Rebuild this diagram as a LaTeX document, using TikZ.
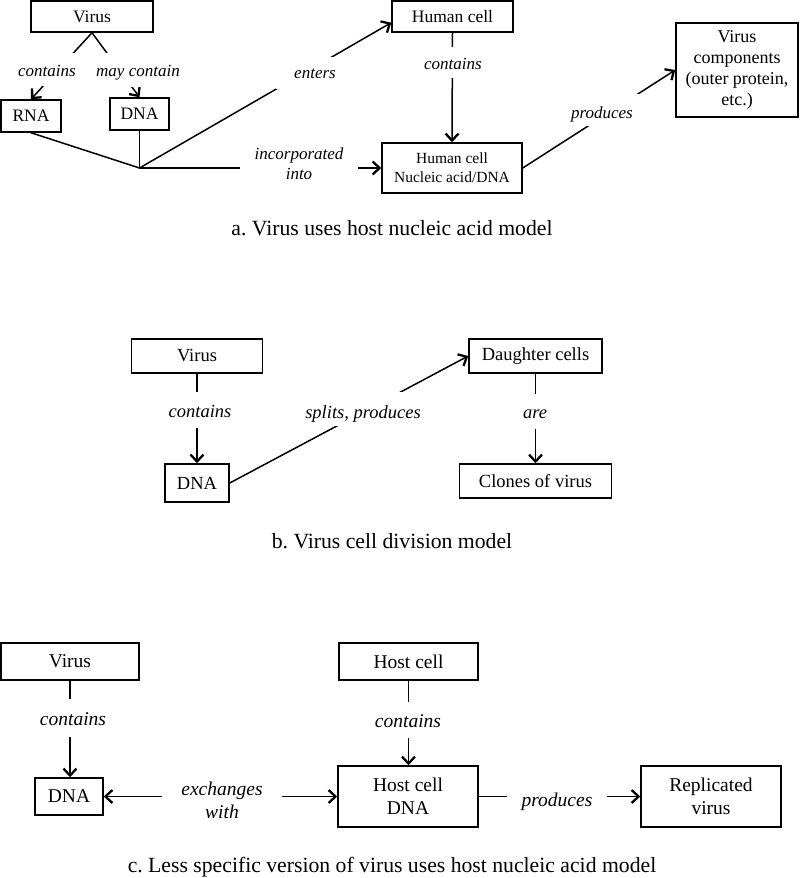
\documentclass[tikz,border=0pt]{standalone}
\usepackage{fontspec}
\setmainfont{Liberation Serif}
\usetikzlibrary{arrows.meta,calc}
\frenchspacing
\begin{document}
\begin{tikzpicture}[x=1pt,y=-1pt,
  box/.style={draw, line width=1.5pt, inner sep=0pt, align=center},
  fa/.style={font=\fontsize{17.5}{19}\selectfont},
  fb/.style={font=\fontsize{18.5}{21}\selectfont},
  fc/.style={font=\fontsize{19.5}{23}\selectfont},
  conn/.style={line width=1.5pt, line cap=round, line join=round},
  tip/.style={Straight Barb[length=7pt,width=13pt,line width=2.3pt]},
  arr/.style={conn, -{Straight Barb[length=7pt,width=13pt,line width=2.3pt]}},
  darr/.style={conn, {Straight Barb[length=7pt,width=13pt,line width=2.3pt]}-{Straight Barb[length=7pt,width=13pt,line width=2.3pt]}},
  lab/.style={fill=white, inner xsep=2pt, inner ysep=0pt, anchor=base, font=\itshape\fontsize{17}{20}\selectfont},
  labb/.style={lab, font=\itshape\fontsize{18.5}{21}\selectfont},
  labc/.style={lab, font=\itshape\fontsize{19.5}{23}\selectfont},
  captxt/.style={anchor=base, inner sep=0pt, font=\fontsize{21.7}{24}\selectfont}
]
\useasboundingbox (0,0) rectangle (800,878);

% ---------- section a ----------
\node[box, fa, minimum width=122pt, minimum height=31pt] (virusA) at (92,16.5) {Virus};
\node[box, fa, minimum width=60pt, minimum height=32pt] (rnaA) at (31,116) {RNA};
\node[box, fa, minimum width=59pt, minimum height=32pt] (dnaA) at (139.5,114) {DNA};
\node[box, fa, minimum width=121pt, minimum height=31pt] (humanA) at (452.5,16.5) {Human cell};
\node[box, font=\fontsize{15.5}{19}\selectfont, minimum width=140pt, minimum height=50pt] (nucA) at (452,168) {Human cell\\Nucleic acid/DNA};
\node[box, font=\fontsize{18}{20.7}\selectfont, minimum width=122pt, minimum height=94pt] (compA) at (737,70) {Virus\\components\\(outer protein,\\etc.)};
\coordinate (J) at (139.5,168);

\draw[arr] (virusA.south) -- (rnaA.north);
\draw[arr] (virusA.south) -- (dnaA.north);
\draw[conn] (rnaA.south) -- (J);
\draw[conn] (dnaA.south) -- (J);
\draw[arr] (J) -- ($(humanA.south west)!0.31!(humanA.north west)$);
\draw[arr] (J) -- (nucA.west);
\draw[arr] (humanA.south) -- (nucA.north);
\draw[arr] (nucA.east) -- (compA.west);

\node[lab, text height=23pt, text depth=10pt] (la1) at (47,76) {contains};
\node[lab, text height=23pt, text depth=11pt] (la2) at (138,76) {may contain};
\node[lab, text height=21pt, text depth=10.7pt, minimum width=78pt] (la3) at (315,78) {enters};
\node[lab, anchor=center, align=center, minimum width=118pt, minimum height=44pt, inner xsep=0pt] (la4) at (299,164) {incorporated\\into};
\node[lab, text height=22pt, text depth=9pt] (la5) at (453,69) {contains};
\node[lab, text height=24.4pt, text depth=8pt, minimum width=76pt] (la6) at (602,118) {produces};

\node[captxt] (capA) at (392,235) {a. Virus uses host nucleic acid model};

% ---------- section b ----------
\node[box, fb, minimum width=131pt, minimum height=34pt] (virusB) at (197,356) {Virus};
\node[box, fb, minimum width=64pt, minimum height=38pt] (dnaB) at (197,483) {DNA};
\node[box, fb, minimum width=133pt, minimum height=34pt] (daughtB) at (535.5,356) {Daughter cells};
\node[box, fb, minimum width=152pt, minimum height=34pt] (clonesB) at (535.5,481) {Clones of virus};

\draw[arr] (virusB.south) -- (dnaB.north);
\draw[arr] (dnaB.east) -- (daughtB.west);
\draw[arr] (daughtB.south) -- (clonesB.north);

\node[labb, text height=25pt, text depth=11pt] (lb1) at (200,417) {contains};
\node[labb, text height=26pt, text depth=8pt] (lb2) at (363,418) {splits, produces};
\node[labb, text height=24pt, text depth=11pt] (lb3) at (535,418) {are};

\node[captxt] (capB) at (392,548) {b. Virus cell division model};

% ---------- section c ----------
\node[box, fc, minimum width=138pt, minimum height=37pt] (virusC) at (70,661.5) {Virus};
\node[box, fc, minimum width=139pt, minimum height=37pt] (hostC) at (408.5,661.5) {Host cell};
\node[box, fc, minimum width=68pt, minimum height=37pt] (dnaC) at (69,796.5) {DNA};
\node[box, fc, minimum width=140pt, minimum height=61pt] (hostdnaC) at (408,796.5) {Host cell\\DNA};
\node[box, fc, minimum width=140pt, minimum height=61pt] (repC) at (711,796.5) {Replicated\\virus};

\draw[arr] (virusC.south) -- (virusC.south |- dnaC.north);
\draw[arr] (hostC.south) -- (hostC.south |- hostdnaC.north);
\draw[darr] (dnaC) -- (hostdnaC);
\draw[arr] (hostdnaC) -- (repC);

\node[labc, text height=26pt, text depth=12pt] (lc1) at (73,725) {contains};
\node[labc, text height=25pt, text depth=11pt] (lc2) at (408,727) {contains};
\node[labc, anchor=center, align=center, minimum width=120pt, minimum height=50pt, inner xsep=0pt] (lc3) at (222,800) {exchanges\\with};
\node[labc, text height=20pt, text depth=10pt, minimum width=100pt] (lc4) at (557,806) {produces};

\node[captxt] (capC) at (392,872) {c. Less specific version of virus uses host nucleic acid model};
\end{tikzpicture}
\end{document}
